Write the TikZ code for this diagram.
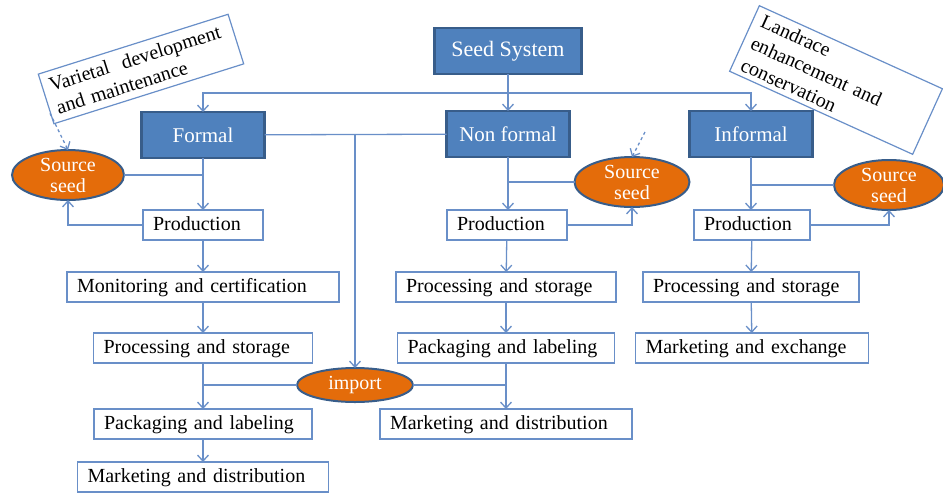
\documentclass[tikz,border=0pt]{standalone}
\usepackage{fontspec}
\setmainfont{Liberation Serif}
\usetikzlibrary{positioning,shapes.geometric,arrows.meta,calc}
\definecolor{headblue}{RGB}{79,129,189}
\definecolor{edgeblue}{RGB}{56,93,138}
\definecolor{lineblue}{RGB}{105,143,200}
\definecolor{seedorange}{RGB}{228,108,10}
\tikzset{
head/.style={draw=edgeblue,line width=2.2pt,fill=headblue,text=white,minimum height=46pt,minimum width=123pt,inner sep=0pt,outer sep=0pt,font=\fontsize{21}{23}\selectfont},
stage/.style={draw=lineblue,line width=1.2pt,minimum height=30pt,inner ysep=0pt,inner xsep=10pt,outer sep=0pt,text width=#1,text height=14pt,text depth=4pt,align=left,font=\fontsize{20}{22}\selectfont},
source/.style={ellipse,draw=edgeblue,line width=2pt,fill=seedorange,text=white,inner sep=0pt,outer sep=0pt,align=center,font=\fontsize{20}{21}\selectfont},
note/.style={draw=lineblue,line width=1.2pt,align=left,inner sep=0pt,font=\fontsize{20}{24}\selectfont},
flow/.style={draw=lineblue,line width=1.3pt},
tip/.style={-{Straight Barb[length=6pt,width=11pt]}}
}
\begin{document}
\begin{tikzpicture}[x=1pt,y=-1pt]
\useasboundingbox (0,0) rectangle (943,493);
\node[head,minimum width=147pt,font=\fontsize{22}{24}\selectfont] (seed) at (508,51) {Seed System};
\node[head] (formal) at (203,135) {Formal};
\node[head] (nonformal) at (508,134) {Non formal};
\node[head] (informal) at (751,134) {Informal};
\node[stage=100pt,below=52pt of formal] (prodF) {Production};
\node[stage=252pt,below=32pt of prodF] (monF) {Monitoring and certification};
\node[stage=199pt,below=31pt of monF] (procF) {Processing and storage};
\node[stage=198pt,below=46pt of procF] (packF) {Packaging and labeling};
\node[stage=231pt,below=23pt of packF] (mktF) {Marketing and distribution};
\node[stage=100pt,below=53pt of nonformal,xshift=-1pt] (prodNF) {Production};
\node[stage=200pt,below=32pt of prodNF,xshift=-1pt] (procNF) {Processing and storage};
\node[stage=197pt,below=31pt of procNF] (packNF) {Packaging and labeling};
\node[stage=232pt,below=46pt of packNF] (mktNF) {Marketing and distribution};
\node[stage=96pt,below=53pt of informal,xshift=1pt] (prodI) {Production};
\node[stage=196pt,below=32pt of prodI,xshift=-1pt] (procI) {Processing and storage};
\node[stage=213pt,below=31pt of procI,xshift=1pt] (mktI) {Marketing and exchange};
\node[source,minimum width=112pt,minimum height=50pt] (srcF) at (68,175) {Source\\seed};
\node[source,minimum width=115pt,minimum height=50pt] (srcNF) at (632,182) {Source\\seed};
\node[source,minimum width=110pt,minimum height=50pt] (srcI) at (889,185) {Source\\seed};
\node[source,minimum width=116pt,minimum height=34pt] (import) at (355,385) {import};
\node[note,rotate=17.5,minimum width=199pt,minimum height=52pt,text width=184pt] (varietal) at (141,69) {Varietal \ development\\and maintenance};
\node[note,rotate=-24.4,minimum width=201pt,minimum height=72pt,text width=184pt] (landrace) at (836,80) {Landrace\\enhancement and\\conservation};
\coordinate (split) at (508,93);
\coordinate (hint) at (645,132);
\draw[flow] (seed) -- (split);
\draw[flow,tip] (split) -- (nonformal);
\draw[flow,tip] (split) -| (formal);
\draw[flow,tip] (split) -| (informal);
\draw[flow] (formal) -- (nonformal);
\draw[flow,tip] (formal.east -| import) -- (import);
\draw[flow,tip] (formal) -- (prodF);
\draw[flow] (srcF) -- (srcF -| formal);
\draw[flow,tip] (prodF) -| (srcF);
\draw[flow,dashed,tip] ($(varietal.south west)!0.22!(varietal.north west)$) -- (srcF.north);
\draw[flow,tip] (prodF) -- (monF);
\draw[flow,tip] (monF) -- (procF);
\draw[flow,tip] (procF) -- (packF);
\draw[flow,tip] (packF) -- (mktF);
\draw[flow] (import) -- (import -| packF);
\draw[flow] (import) -- (import -| mktNF);
\draw[flow,tip] (nonformal) -- (nonformal |- prodNF.north);
\draw[flow] (srcNF) -- (srcNF -| nonformal);
\draw[flow,tip] (prodNF) -| (srcNF);
\draw[flow,dashed,tip] (hint) -- (srcNF.north);
\draw[flow,tip] (prodNF) -- (procNF);
\draw[flow,tip] (procNF) -- (packNF);
\draw[flow,tip] (packNF) -- (mktNF);
\draw[flow,tip] (informal) -- (informal |- prodI.north);
\draw[flow] (srcI) -- (srcI -| informal);
\draw[flow,tip] (prodI) -| (srcI);
\draw[flow,tip] (prodI) -- (procI);
\draw[flow,tip] (procI) -- (mktI);
\end{tikzpicture}
\end{document}
